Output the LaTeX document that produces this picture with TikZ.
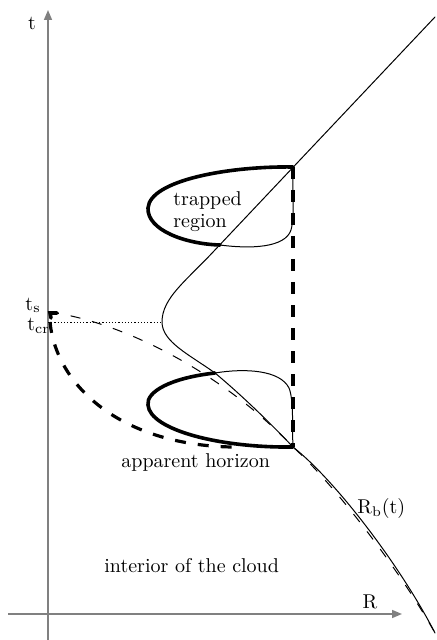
\documentclass[tikz,border=0pt]{standalone}
\usetikzlibrary{arrows.meta}
\begin{document}
\begin{tikzpicture}[x=0.5pt,y=-0.5pt,
  axisline/.style={black!50, line width=0.8pt, -{Triangle[length=5pt,width=4pt]}, black!50},
  thinline/.style={line width=0.5pt, line cap=round},
  thickline/.style={line width=1.8pt, line cap=round},
  thinDash/.style={line width=0.5pt, dash pattern=on 5pt off 6pt},
  thickDash/.style={line width=1.6pt, dash pattern=on 5.5pt off 6pt},
  label/.style={inner sep=0pt, font=\fontsize{10}{11}\selectfont}]
\useasboundingbox (0,0) rectangle (436,640);
% axes
\coordinate (tbot) at (48,640);
\coordinate (ttip) at (48,10);
\coordinate (Rleft) at (8,614);
\coordinate (Rtip) at (402,614);
\draw[axisline] (tbot) -- (ttip);
\draw[axisline] (Rleft) -- (Rtip);
% key points
\coordinate (top) at (435,17);
\coordinate (ts) at (49,312);
\coordinate (tcr) at (48,322);
\coordinate (Lc) at (162,322);
\coordinate (A) at (293,167);
\coordinate (B) at (293,447);
\coordinate (U) at (220,245);
\coordinate (D) at (215,373);
\coordinate (end) at (435,633);
% dotted t_cr line
\draw[line width=0.4pt, dash pattern=on 0.6pt off 1pt] (tcr) -- (Lc);
% thin S curve (boundary)
\draw[thinline] (top) -- (214,251) .. controls (186,281) and (162,298) .. (Lc)
  .. controls (162,342) and (190,355) .. (D)
  .. controls (245,398) and (275,428) .. (B)
  .. controls (335,480) and (400,565) .. (end);
% thin dashed curve
\draw[thinDash] (ts) .. controls (125,322) and (225,375) .. (B)
  .. controls (331,481) and (398,567) .. (end);
% thick dashed apparent horizon
\draw[thickline] (57,313) -- (50,313) -- (51,318);
\draw[thickDash] (50,322) .. controls (56,385) and (120,445) .. (232,447);
% vertical thick dashed
\draw[line width=1.7pt, dash pattern=on 6pt off 5.5pt] (A) -- (B);
% upper loop
\draw[thickline] (A) .. controls (230,166) and (150,180) .. (148,208)
  .. controls (147,230) and (185,244) .. (U);
\draw[thinline] (U) .. controls (250,249) and (285,248) .. (291,230)
  .. controls (295,215) and (292,190) .. (A);
% lower loop
\draw[thickline] (D) .. controls (170,378) and (146,392) .. (148,405)
  .. controls (150,430) and (220,448) .. (B);
\draw[thinline] (D) .. controls (245,368) and (280,370) .. (289,388)
  .. controls (294,400) and (292,430) .. (B);
% labels
\node[label, anchor=base] (tlab) at (32,30) {t};
\node[label, anchor=base] (Rlab) at (370,608) {R};
\node[label, anchor=base east] (tslab) at (41,310) {$\mathrm{t_s}$};
\node[label, anchor=base east] (tcrlab) at (50,330) {$\mathrm{t_{cr}}$};
\node[label, anchor=base west] (Rblab) at (357,513) {$\mathrm{R_b(t)}$};
\node[label, anchor=west, align=left] (trap) at (173,212) {trapped\\region};
\node[label, anchor=base west] (ah) at (121,467) {apparent horizon};
\node[label, anchor=base west] (int) at (104,572) {interior of the cloud};
\end{tikzpicture}
\end{document}
